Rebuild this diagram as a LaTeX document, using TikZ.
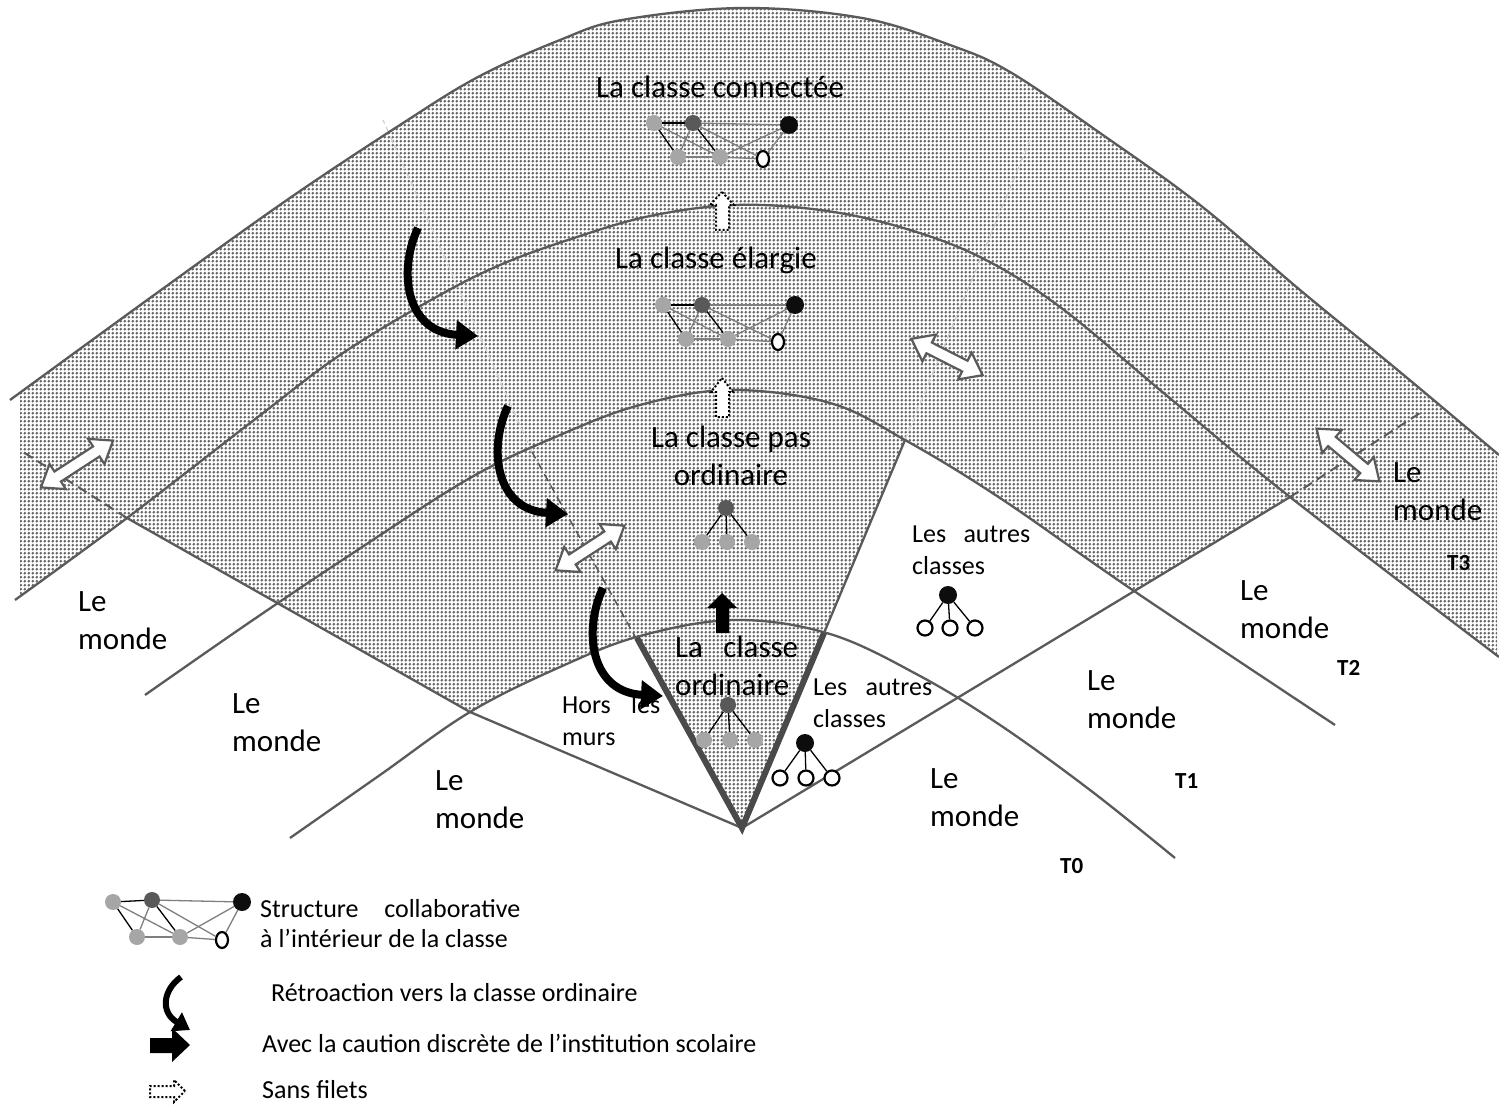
\documentclass[tikz,border=0pt]{standalone}
\usepackage{fontspec}
\setmainfont{Carlito}
\usetikzlibrary{patterns.meta,arrows.meta,shapes.geometric}
\definecolor{lineg}{HTML}{5A5A5A}
\definecolor{vline}{HTML}{4A4A4A}
\definecolor{nodelg}{HTML}{A6A6A6}
\definecolor{nodedg}{HTML}{595959}
\definecolor{nodebk}{HTML}{0D0D0D}
\definecolor{dotg}{HTML}{666666}
\definecolor{edgeg}{HTML}{7F7F7F}
\definecolor{faint}{HTML}{D0D0D0}
\tikzdeclarepattern{
  name=rdots,
  type=uncolored,
  bottom left={(0pt,0pt)},
  top right={(3.8pt,3.8pt)},
  tile size={(3.8pt,3.8pt)},
  code={\fill (1.9pt,1.9pt) circle (1.55pt);}
}
\newcommand{\fBig}{\fontsize{31pt}{38pt}\selectfont}
\newcommand{\fSm}{\fontsize{26pt}{32pt}\selectfont}
\newcommand{\fLeg}{\fontsize{26pt}{30pt}\selectfont}
\newcommand{\fTl}{\fontsize{23pt}{28pt}\selectfont\bfseries}
\newcommand{\TwoL}[2]{\begin{tabular}[t]{@{}l@{}}#1\\#2\end{tabular}}
\newcommand{\TwoC}[2]{\begin{tabular}[t]{@{}c@{}}#1\\#2\end{tabular}}
\newcommand{\netw}[7]{%
  \node[lgn] (#1a) at (#2) {};
  \node[dgn] (#1b) at (#3) {};
  \node[bkn] (#1c) at (#4) {};
  \node[lgn] (#1d) at (#5) {};
  \node[lgn] (#1e) at (#6) {};
  \node[wn]  (#1f) at (#7) {};
  \draw[edk] (#1a) -- (#1b);
  \draw[edk] (#1a) -- (#1d);
  \draw[edg] (#1a) -- (#1e);
  \draw[edg] (#1b) -- (#1c);
  \draw[edg] (#1b) -- (#1d);
  \draw[edk] (#1b) -- (#1e);
  \draw[edg] (#1b) -- (#1f);
  \draw[edg] (#1d) -- (#1e);
  \draw[edg] (#1e) -- (#1f);
  \draw[edg] (#1e) -- (#1c);
  \draw[edg] (#1f) -- (#1c);
}
\newcommand{\dblarrow}[3]{%
  \begin{scope}[shift={(#1)},rotate=#2]
    \draw[dblst] (-#3,0) -- (-#3+20,15) -- (-#3+20,6) -- (#3-20,6) -- (#3-20,15) -- (#3,0)
      -- (#3-20,-15) -- (#3-20,-6) -- (-#3+20,-6) -- (-#3+20,-15) -- cycle;
  \end{scope}}
\begin{document}
\begin{tikzpicture}[x=1pt,y=-1pt,
  arch/.style={draw=lineg,line width=2.3pt},
  archd/.style={draw=lineg,line width=2pt,dash pattern=on 10pt off 6pt},
  vthick/.style={draw=vline,line width=6pt,line join=miter},
  vdash/.style={draw=lineg,line width=1.5pt,dash pattern=on 8pt off 5pt},
  faintd/.style={draw=faint,line width=1.2pt,dash pattern=on 6pt off 4pt},
  dotfill/.style={pattern=rdots,pattern color=dotg},
  lgn/.style={circle,fill=nodelg,minimum size=16pt,inner sep=0pt},
  dgn/.style={circle,fill=nodedg,minimum size=16pt,inner sep=0pt},
  bkn/.style={circle,fill=nodebk,minimum size=18pt,inner sep=0pt},
  wn/.style={ellipse,draw=black,line width=2.2pt,fill=white,minimum width=12pt,minimum height=16pt,inner sep=0pt},
  wc/.style={circle,draw=black,line width=2.2pt,fill=white,minimum size=15pt,inner sep=0pt},
  edk/.style={draw=black,line width=1.3pt},
  edg/.style={draw=edgeg,line width=1.3pt},
  dblst/.style={draw=lineg,line width=2.2pt,fill=white,line join=miter},
  retro/.style={draw=black,line width=8pt,-{Triangle[length=22pt,width=28pt]}},
  dotarrow/.style={draw=black,line width=2pt,dash pattern=on 2pt off 2pt,fill=white},
  bigt/.style={font=\fBig,inner sep=0pt,anchor=base west},
  smt/.style={font=\fSm,inner sep=0pt,anchor=base west},
  legt/.style={font=\fLeg,inner sep=0pt,anchor=base west},
  tlab/.style={font=\fTl,inner sep=0pt,anchor=base west}]
\useasboundingbox (0,0) rectangle (1499,1107);
\fill[white] (0,0) rectangle (1499,1107);

% ---- band T3 (full width)
\begin{scope}
\clip (20,-10) rectangle (1497,1120);
\fill[dotfill] (20,1120) -- plot[smooth,tension=.6] coordinates {(10,400) (150,298) (287,200) (400,125) (478,77) (560,40) (622,20) (742,8) (862,18) (950,45) (1010,72) (1100,133) (1200,205) (1300,290) (1400,372) (1499,455)} -- (1510,1120) -- cycle;
\end{scope}
% ---- white under A2
\fill[white] (-10,1120) -- (-10,606) -- plot[smooth,tension=.6] coordinates {(15,600) (127,518) (254,420) (340,355) (431,300) (500,265) (574,238) (650,216) (735,205) (820,210) (900,227) (980,257) (1060,307) (1166,395) (1290,497) (1499,657)} -- (1510,665) -- (1510,1120) -- cycle;
% ---- band T2 between the two oblique lines
\begin{scope}
\clip (742,828) -- (470,712) -- (127,518) -- (20,450) -- (-200,310) -- (-200,-200) -- (1700,-200) -- (1700,232) -- (1420,413) -- (1290,497) -- cycle;
\fill[dotfill] (-10,1120) -- (-10,606) -- plot[smooth,tension=.6] coordinates {(15,600) (127,518) (254,420) (340,355) (431,300) (500,265) (574,238) (650,216) (735,205) (820,210) (900,227) (980,257) (1060,307) (1166,395) (1290,497) (1499,657)} -- (1510,665) -- (1510,1120) -- cycle;
\end{scope}
% ---- white under A1
\fill[white] (145,1120) -- plot[smooth,tension=.6] coordinates {(145,695) (250,622) (350,555) (470,478) (560,435) (640,405) (730,390) (830,403) (905,440) (1000,498) (1134,591) (1335,725)} -- (1335,1120) -- cycle;
% ---- band T1 between left oblique line and the V right side
\begin{scope}
\clip (742,828) -- (470,712) -- (127,518) -- (20,450) -- (-200,310) -- (-200,-200) -- (1174,-200) -- cycle;
\fill[dotfill] (145,1120) -- plot[smooth,tension=.6] coordinates {(145,695) (250,622) (350,555) (470,478) (560,435) (640,405) (730,390) (830,403) (905,440) (1000,498) (1134,591) (1335,725)} -- (1335,1120) -- cycle;
\end{scope}
% ---- white under A0
\fill[white] (290,1120) -- plot[smooth,tension=.6] coordinates {(290,838) (380,775) (470,712) (560,667) (640,636) (735,620) (830,634) (920,676) (1000,725) (1090,790) (1175,858)} -- (1175,1120) -- cycle;
% ---- the ordinary class sector
\begin{scope}
\clip (742,828) -- (168,-200) -- (1174,-200) -- cycle;
\fill[dotfill] (290,1120) -- plot[smooth,tension=.6] coordinates {(290,838) (380,775) (470,712) (560,667) (640,636) (735,620) (830,634) (920,676) (1000,725) (1090,790) (1175,858)} -- (1175,1120) -- cycle;
\end{scope}

% ---- faint and dashed guide lines
\draw[faintd] (532,452) -- (383,120);
\draw[faintd] (905,440) -- (1030,140);
\draw[vdash] (637,640) -- (532,452);

% ---- arches
\draw[arch] plot[smooth,tension=.6] coordinates {(10,400) (150,298) (287,200) (400,125) (478,77) (560,40) (622,20) (742,8) (862,18) (950,45) (1010,72) (1100,133) (1200,205) (1300,290) (1400,372) (1499,455)};
\draw[arch] plot[smooth,tension=.6] coordinates {(15,600) (127,518) (254,420) (340,355) (431,300) (500,265) (574,238) (650,216) (735,205) (820,210) (900,227) (980,257) (1060,307) (1166,395) (1290,497) (1499,657)};
\draw[arch] plot[smooth,tension=.6] coordinates {(145,695) (250,622) (350,555) (470,478) (560,435) (640,405) (730,390) (830,403) (905,440) (1000,498) (1134,591) (1335,725)};
\draw[arch] plot[smooth,tension=.6] coordinates {(290,838) (380,775) (470,712) (560,667) (640,636) (735,620) (830,634) (920,676) (1000,725) (1090,790) (1175,858)};

% ---- oblique lines
\coordinate (apex) at (742,828);
\draw[arch] (apex) -- (470,712) -- (127,518);
\draw[archd] (127,518) -- (20,450);
\draw[arch] (apex) -- (1290,497);
\draw[archd] (1290,497) -- (1420,413);
\draw[arch] (824,633) -- (905,440);
\draw[vthick] (637,638) -- (apex) -- (824,633);

% ---- sans filets arrows
\draw[dotarrow] (722,192) -- (734,205) -- (729,205) -- (729,230) -- (716,230) -- (716,205) -- (710,205) -- cycle;
\draw[dotarrow] (722,378) -- (733,392) -- (729,392) -- (729,417) -- (716,417) -- (716,392) -- (711,392) -- cycle;
% ---- caution arrow
\fill[black] (722,593) -- (737,608) -- (729,608) -- (729,633) -- (716,633) -- (716,608) -- (707,608) -- cycle;

% ---- double arrows
\dblarrow{77,464}{33}{43}
\dblarrow{590,548}{33}{41}
\dblarrow{947,357}{-27}{40}
\dblarrow{1348,455}{-40}{41}

% ---- retroaction arrows
\draw[retro] (418,228) .. controls (398,270) and (405,332) .. (478,336);
\draw[retro] (508,406) .. controls (488,448) and (495,510) .. (568,514);
\draw[retro] (603,588) .. controls (583,630) and (590,692) .. (663,696);

% ---- networks
\netw{n1}{654,123}{693,123}{789,125}{678,157}{720,157}{763,159}
\netw{n2}{663,305}{702,305}{795,305}{686,339}{728,339}{778,342}
% trees
\node[dgn] (p1) at (726,508) {};
\node[lgn] (p1a) at (702,542) {};
\node[lgn] (p1b) at (727,542) {};
\node[lgn] (p1c) at (752,542) {};
\draw[edk] (p1) -- (p1a); \draw[edk] (p1) -- (p1b); \draw[edk] (p1) -- (p1c);
\node[dgn] (p0) at (728,705) {};
\node[lgn] (p0a) at (704,740) {};
\node[lgn] (p0b) at (730,740) {};
\node[lgn] (p0c) at (755,740) {};
\draw[edk] (p0) -- (p0a); \draw[edk] (p0) -- (p0b); \draw[edk] (p0) -- (p0c);
\node[bkn] (q0) at (805,743) {};
\node[wc] (q0a) at (780,778) {};
\node[wc] (q0b) at (806,778) {};
\node[wc] (q0c) at (832,778) {};
\draw[edk] (q0) -- (q0a); \draw[edk] (q0) -- (q0b); \draw[edk] (q0) -- (q0c);
\node[bkn] (q1) at (948,595) {};
\node[wc] (q1a) at (925,628) {};
\node[wc] (q1b) at (950,628) {};
\node[wc] (q1c) at (975,628) {};
\draw[edk] (q1) -- (q1a); \draw[edk] (q1) -- (q1b); \draw[edk] (q1) -- (q1c);

% ---- texts
\node[bigt] (tconn) at (596,98) {La classe connectée};
\node[bigt] (telarg) at (615,269) {La classe élargie};
\node[bigt,anchor=base] (tpas) at (731,447) {\TwoC{La classe pas}{ordinaire}};
\node[bigt] (tord) at (675,657) {\TwoL{\makebox[123pt][s]{La classe}}{ordinaire}};
\node[smt] (tac0) at (813,695) {\TwoL{\makebox[119pt][s]{Les autres}}{classes}};
\node[smt] (tac1) at (912,542) {\TwoL{\makebox[118pt][s]{Les autres}}{classes}};
\node[smt] (thors) at (562,713) {\TwoL{\makebox[98pt][s]{Hors les}}{murs}};
\node[bigt] (m2l) at (78,611) {\TwoL{Le}{monde}};
\node[bigt] (m1l) at (232,713) {\TwoL{Le}{monde}};
\node[bigt] (m0l) at (435,790) {\TwoL{Le}{monde}};
\node[bigt] (m0r) at (930,788) {\TwoL{Le}{monde}};
\node[bigt] (m1r) at (1087,690) {\TwoL{Le}{monde}};
\node[bigt] (m2r) at (1240,600) {\TwoL{Le}{monde}};
\node[bigt] (m3r) at (1393,482) {\TwoL{Le}{monde}};
\node[tlab] (t0) at (1060,873) {T0};
\node[tlab] (t1) at (1175,788) {T1};
\node[tlab] (t2) at (1337,675) {T2};
\node[tlab] (t3) at (1447,570) {T3};

% ---- legend
\netw{lg}{113,902}{152,900}{242,902}{137,937}{180,937}{222,940}
\node[legt] (leg1) at (260,917) {\TwoL{\makebox[260pt][s]{Structure collaborative}}{à l’intérieur de la classe}};
\draw[retro,line width=6pt,-{Triangle[length=16pt,width=21pt]}] (181,977) .. controls (163,990) and (160,1012) .. (190,1030);
\node[legt] (leg2) at (271,1001) {Rétroaction vers la classe ordinaire};
\fill[black] (190,1045) -- (172,1028) -- (172,1038) -- (150,1038) -- (150,1053) -- (172,1053) -- (172,1062) -- cycle;
\node[legt] (leg3) at (262,1052) {Avec la caution discrète de l’institution scolaire};
\draw[dotarrow] (185,1091) -- (174,1080) -- (174,1086) -- (150,1086) -- (150,1097) -- (174,1097) -- (174,1102) -- cycle;
\node[legt] (leg4) at (262,1098) {Sans filets};
\end{tikzpicture}
\end{document}
